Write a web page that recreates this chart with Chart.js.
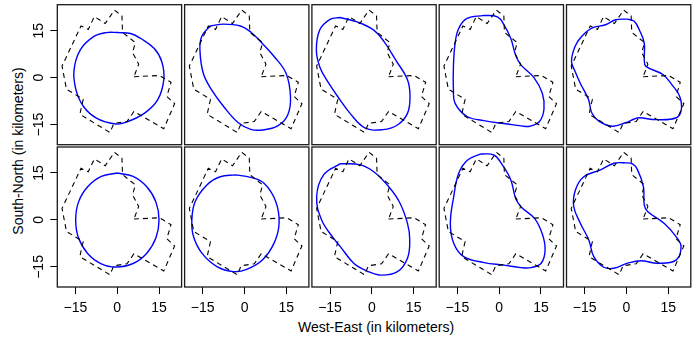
<!DOCTYPE html>
<html>
<head>
<meta charset="utf-8">
<script src="https://cdn.jsdelivr.net/npm/chart.js@4.4.1/dist/chart.umd.min.js"></script>
<style>
  html, body { margin: 0; padding: 0; background: #fff; overflow: hidden; }
  #wrap { position: relative; width: 692px; height: 345px; overflow: hidden; }
  #wrap canvas { position: absolute; left: -30px; top: -30px; }
  .lab { position: absolute; font-family: "Liberation Sans", Arial, sans-serif; font-size: 14px; color: #000; white-space: nowrap; }
  #xtitle { left: 376px; top: 327px; transform: translate(-50%, -50%); }
  #ytitle { left: 18px; top: 151px; transform: translate(-50%, -50%) rotate(-90deg); }
</style>
</head>
<body>
<div id="wrap">
  <div class="lab" id="xtitle">West-East (in kilometers)</div>
  <div class="lab" id="ytitle">South-North (in kilometers)</div>
</div>
<script>
// ---- data (km) ----
const tickVals = [-15, 0, 15];
const xRange = [-21.5, 23.1];
const yRange = [-21.4, 23.3];

// true boundary (dashed), same in every panel
const boundary = [[6.0,0.3],[15.2,0.7],[19.3,-1.5],[17.8,-6.0],[20.6,-8.3],[16.7,-16.3],[6.0,-10.8],
  [3.5,-14.0],[-1.2,-14.6],[-2.6,-17.5],[-13.4,-11.7],[-12.7,-8.8],[-12.2,-6.9],[-18.2,-3.7],[-19.8,3.7],
  [-13.0,16.5],[-10.4,15.4],[-8.2,19.5],[-4.3,17.3],[-1.0,21.6],[1.7,19.7],[1.9,14.5],[6.5,11.2],
  [5.5,8.0],[7.7,4.3]];

// estimated boundaries, top row
const fitA1 = [[0.6,14.4],[4.8,14.1],[8.5,12.5],[13.3,9.3],[16.0,5.1],[16.7,-0.7],[14.5,-7.1],[9.7,-11.4],
  [3.0,-14.3],[-0.6,-14.8],[-7.3,-13.0],[-12.1,-9.2],[-14.8,-3.9],[-15.5,2.4],[-13.3,8.8],[-8.5,13.1],[-4.0,14.4]];
const fitA2 = [[-12.4,16.5],[-7.5,17.1],[-1.5,16.5],[2.2,14.6],[6.4,10.9],[10.7,6.7],[14.9,1.4],[16.5,-6.1],
  [15.5,-11.9],[11.9,-15.4],[6.4,-16.7],[2.2,-16.5],[-2.1,-14.5],[-7.5,-9.2],[-11.8,-3.9],[-14.8,1.4],
  [-16.0,8.8],[-15.4,13.1]];
const fitA3 = [[-11.4,19.2],[-5.3,17.8],[0.7,15.2],[4.4,11.5],[8.6,5.6],[12.8,-0.7],[13.7,-6.1],[12.8,-11.4],
  [9.2,-15.1],[4.0,-16.6],[-2.5,-16.0],[-7.8,-11.4],[-11.4,-7.1],[-16.2,-0.7],[-18.7,3.5],[-19.9,8.8],
  [-18.7,15.2],[-15.0,18.6]];
const fitA4 = [[-5.5,19.9],[-0.6,19.4],[1.8,16.8],[4.2,12.5],[6.0,7.0],[7.9,4.0],[12.5,0.0],[15.5,-5.0],
  [16.1,-10.0],[14.5,-14.0],[11.0,-15.5],[8.0,-15.4],[3.0,-14.8],[-5.5,-13.7],[-11.5,-12.4],[-15.8,-8.2],
  [-16.4,-3.9],[-16.4,3.5],[-15.8,10.9],[-14.5,15.7],[-11.5,18.9]];
const fitA5 = [[0.4,18.7],[2.8,18.0],[4.6,15.3],[6.4,11.0],[6.4,5.7],[7.0,3.6],[13.1,1.0],[16.7,-2.7],
  [19.1,-5.9],[19.7,-10.2],[17.9,-12.8],[10.7,-13.4],[4.6,-12.8],[2.8,-13.2],[-0.3,-14.4],[-5.1,-15.5],
  [-9.9,-13.9],[-12.4,-11.3],[-13.6,-7.0],[-16.6,-1.7],[-18.4,2.0],[-19.7,5.2],[-18.4,10.0],[-16.0,13.2],
  [-12.4,15.8],[-7.5,16.9],[-3.9,18.5]];

// estimated boundaries, bottom row
const fitB1 = [[0.0,15.0],[5.7,13.9],[10.6,10.6],[13.9,5.7],[15.0,0.0],[13.9,-5.7],[10.6,-10.6],[5.7,-13.9],
  [-0.5,-15.0],[-5.9,-13.9],[-10.7,-10.6],[-13.9,-5.7],[-14.9,0.0],[-13.9,5.7],[-10.6,10.6],[-5.7,13.9]];
const fitB2 = [[-3.3,14.4],[2.2,13.6],[7.0,11.7],[11.2,5.9],[12.4,-1.1],[10.6,-7.4],[6.4,-12.8],[1.0,-15.7],
  [-3.9,-16.5],[-9.9,-14.9],[-15.3,-10.6],[-18.3,-5.3],[-18.9,0.0],[-17.7,5.9],[-13.5,11.2],[-8.7,13.8]];
const fitB3 = [[-11.3,18.0],[-4.1,17.6],[0.7,15.4],[5.5,11.2],[9.8,5.9],[12.8,-1.1],[13.6,-6.4],[12.8,-12.2],
  [9.2,-16.5],[3.1,-17.6],[-1.7,-16.3],[-6.5,-13.8],[-11.3,-8.5],[-13.7,-5.9],[-18.0,0.0],[-19.8,7.4],
  [-17.3,14.4]];
const fitB4 = [[-6.6,21.1],[-1.8,20.7],[1.2,17.5],[4.2,12.8],[6.0,6.7],[8.1,4.0],[12.7,0.5],[15.5,-4.5],
  [16.5,-9.6],[15.1,-13.8],[11.4,-15.2],[7.8,-15.2],[1.8,-14.4],[-5.4,-13.6],[-12.7,-11.7],[-16.3,-7.4],
  [-17.5,-1.1],[-16.3,7.4],[-14.5,14.9],[-11.4,19.1]];
const fitB5 = [[-0.8,18.3],[2.2,17.9],[4.0,16.0],[6.1,10.6],[6.4,4.8],[7.6,2.7],[13.6,-1.1],[17.8,-5.3],
  [19.6,-8.5],[17.8,-12.8],[11.2,-13.8],[5.2,-13.0],[0.4,-13.8],[-4.5,-15.4],[-8.1,-15.1],[-11.7,-11.7],
  [-13.5,-6.4],[-16.5,-1.1],[-18.9,4.3],[-18.3,9.6],[-15.3,13.8],[-9.3,16.0],[-4.5,18.1]];

const panels = [
  { row: 0, col: 0, fit: fitA1 }, { row: 0, col: 1, fit: fitA2 }, { row: 0, col: 2, fit: fitA3 },
  { row: 0, col: 3, fit: fitA4 }, { row: 0, col: 4, fit: fitA5 },
  { row: 1, col: 0, fit: fitB1 }, { row: 1, col: 1, fit: fitB2 }, { row: 1, col: 2, fit: fitB3 },
  { row: 1, col: 3, fit: fitB4 }, { row: 1, col: 4, fit: fitB5 }
];

// ---- layout ----
const M = 30;          // canvas overhang on each side
const AXW = 30, AXH = 30;
const colLeft = [57.3, 184.6, 311.9, 439.2, 566.5];
const rowTop = [4.7, 147];
const panelW = 124.3, panelH = 140;
const FONT = '"Liberation Sans", Arial, sans-serif';

// closed path as {x,y} points
function closed(pairs) {
  const pts = pairs.map(p => ({ x: p[0], y: p[1] }));
  pts.push({ x: pairs[0][0], y: pairs[0][1] });
  return pts;
}

function fmt(v) {
  return v < 0 ? '\u2212' + Math.abs(v) : String(v);
}

// box around each panel
const framePlugin = {
  id: 'frame',
  afterDatasetsDraw(chart) {
    const a = chart.chartArea, ctx = chart.ctx;
    ctx.save();
    ctx.strokeStyle = '#1a1a1a';
    ctx.lineWidth = 1.3;
    ctx.strokeRect(a.left, a.top, a.right - a.left, a.bottom - a.top);
    ctx.restore();
  }
};

function axisOpts(isY, show) {
  const range = isY ? yRange : xRange;
  return {
    type: 'linear',
    position: isY ? 'left' : 'bottom',
    min: range[0],
    max: range[1],
    display: show,
    afterBuildTicks: s => { s.ticks = tickVals.map(v => ({ value: v })); },
    // fixed axis size, only for the axes that are shown
    afterFit: s => {
      if (!show) return;
      if (isY) s.width = AXW; else s.height = AXH;
    },
    grid: { drawOnChartArea: false, drawTicks: true, tickLength: 7, color: '#000', lineWidth: 1 },
    border: { display: false },
    ticks: {
      color: '#000',
      font: { family: FONT, size: 14 },
      padding: isY ? -0.5 : 6,
      minRotation: isY ? 90 : 0,
      maxRotation: isY ? 90 : 0,
      crossAlign: isY ? 'center' : 'near',
      callback: v => fmt(v)
    }
  };
}

const wrap = document.getElementById('wrap');

panels.forEach(function(p) {
  const canvas = document.createElement('canvas');
  canvas.width = 692 + 2 * M;
  canvas.height = 345 + 2 * M;
  wrap.appendChild(canvas);

  const L = colLeft[p.col], T = rowTop[p.row];
  const showY = p.col === 0, showX = p.row === 1;

  new Chart(canvas, {
    type: 'scatter',
    data: {
      datasets: [
        { data: closed(boundary), showLine: true, borderColor: '#000', borderWidth: 1.1,
          borderDash: [5, 4], pointRadius: 0, tension: 0 },
        { data: closed(p.fit), showLine: true, borderColor: '#0000ff', borderWidth: 1.4,
          pointRadius: 0, tension: 0.4 }
      ]
    },
    options: {
      responsive: false,
      animation: false,
      devicePixelRatio: 1,
      layout: {
        padding: {
          left: M + L - (showY ? AXW : 0),
          top: M + T,
          right: 692 + M - (L + panelW),
          bottom: 345 + M - (T + panelH) - (showX ? AXH : 0)
        }
      },
      plugins: { legend: { display: false }, tooltip: { enabled: false } },
      scales: { x: axisOpts(false, showX), y: axisOpts(true, showY) }
    },
    plugins: [framePlugin]
  });
});
</script>
</body>
</html>
